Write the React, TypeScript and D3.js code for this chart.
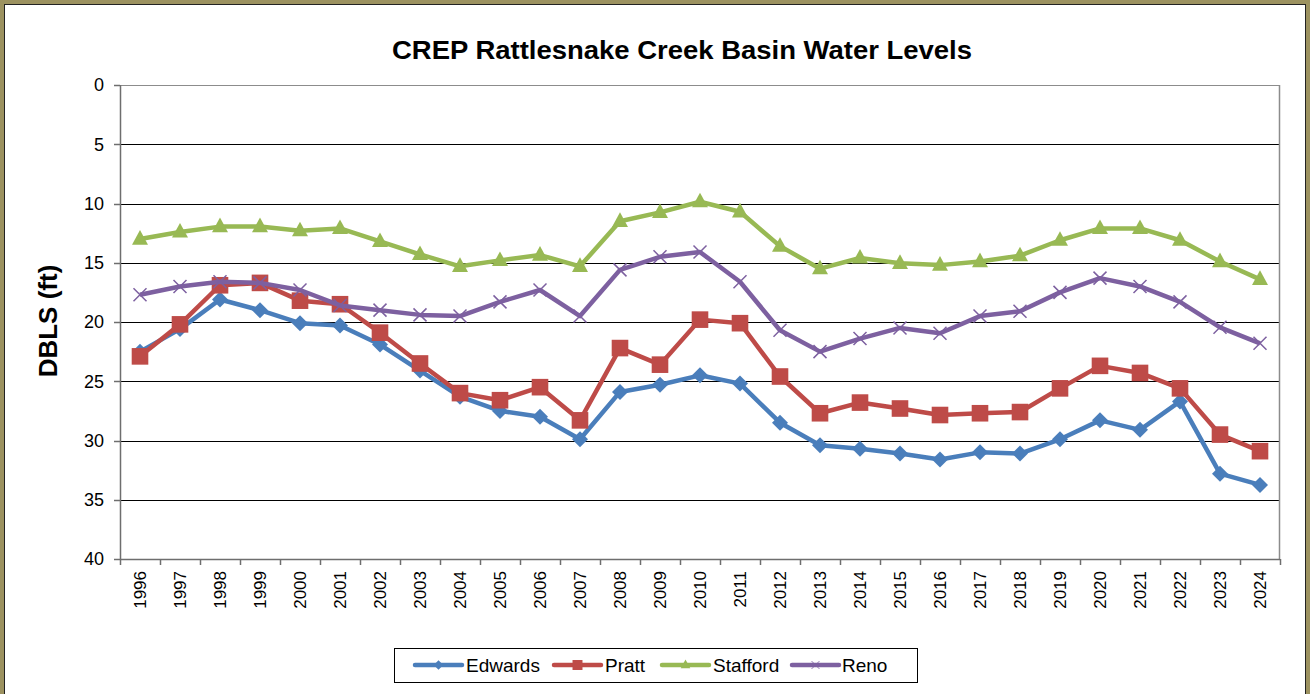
import React from "react";
import * as d3 from "d3";

const years = [1996,1997,1998,1999,2000,2001,2002,2003,2004,2005,2006,2007,2008,2009,2010,2011,2012,2013,2014,2015,2016,2017,2018,2019,2020,2021,2022,2023,2024].map(String);

const edwards = [22.5,20.6,18.1,19.0,20.1,20.3,21.9,24.1,26.3,27.5,28.0,29.9,25.9,25.3,24.5,25.2,28.5,30.4,30.7,31.1,31.6,31.0,31.1,29.9,28.3,29.1,26.7,32.8,33.75];
const pratt = [22.9,20.2,16.9,16.7,18.2,18.5,20.9,23.5,26.0,26.6,25.5,28.3,22.2,23.6,19.8,20.1,24.6,27.7,26.8,27.3,27.85,27.7,27.6,25.6,23.7,24.3,25.6,29.5,30.9];
const stafford = [13.0,12.4,11.95,11.95,12.3,12.1,13.2,14.3,15.3,14.8,14.35,15.3,11.5,10.75,9.85,10.7,13.6,15.5,14.6,15.05,15.2,14.9,14.4,13.1,12.1,12.1,13.1,14.9,16.4];
const reno = [17.7,17.0,16.6,16.7,17.3,18.6,19.0,19.4,19.5,18.3,17.3,19.5,15.6,14.5,14.1,16.6,20.7,22.5,21.4,20.5,20.95,19.5,19.1,17.5,16.3,17.0,18.3,20.45,21.8];

const yTicks = [0,5,10,15,20,25,30,35,40];
const title = "CREP Rattlesnake Creek Basin Water Levels";
const yLabel = "DBLS (ft)";

const series = [
  { name: "Edwards", values: edwards, color: "#4a7ebb", marker: "diamond" },
  { name: "Pratt", values: pratt, color: "#be4b48", marker: "square" },
  { name: "Stafford", values: stafford, color: "#98b954", marker: "triangle" },
  { name: "Reno", values: reno, color: "#7d60a0", marker: "x" },
];

const FONT = "'Liberation Sans', Arial, sans-serif";

function Marker({ type, x, y, color }: { type: string; x: number; y: number; color: string }) {
  if (type === "diamond") {
    const s = 8;
    return <path d={`M${x},${y - s}L${x + s},${y}L${x},${y + s}L${x - s},${y}Z`} fill={color} />;
  }
  if (type === "square") {
    const s = 8.3;
    return <rect x={x - s} y={y - s} width={2 * s} height={2 * s} fill={color} />;
  }
  if (type === "triangle") {
    const s = 8;
    return <path d={`M${x},${y - s - 1}L${x + s},${y + s * 0.7}L${x - s},${y + s * 0.7}Z`} fill={color} />;
  }
  const s = 6.5;
  return (
    <path d={`M${x - s},${y - s}L${x + s},${y + s}M${x - s},${y + s}L${x + s},${y - s}`} stroke={color} strokeWidth={1.5} fill="none" />
  );
}

export default function App() {
  const W = 1310, H = 694;
  const left = 120, right = 1280, top = 85, bottom = 559;
  const x = d3.scaleBand<string>().domain(years).range([left, right]).padding(0);
  const y = d3.scaleLinear().domain([0, 40]).range([top, bottom]);
  const cx = (yr: string) => (x(yr) as number) + x.bandwidth() / 2;
  const line = d3.line<number>().x((_, i) => cx(years[i])).y((v) => y(v));
  const boundaries = years.map((yr) => x(yr) as number).concat([right]);

  const legendItems = [
    { lx: 415, tx: 466 },
    { lx: 554, tx: 605 },
    { lx: 662, tx: 713 },
    { lx: 792, tx: 842 },
  ];

  return (
    <svg width={W} height={H} style={{ position: "absolute", left: 0, top: 0, display: "block" }} fontFamily={FONT}>
      <rect x={0} y={0} width={W} height={H} fill="#fff" />
      <rect x={2} y={2} width={W - 4} height={H + 10} fill="none" stroke="#9c9260" strokeWidth={4} />
      <rect x={4.5} y={4.5} width={W - 9} height={H + 10} fill="none" stroke="#222" strokeWidth={1} />

      <text x={682} y={59} textAnchor="middle" fontSize={26} fontWeight="bold" fill="#000" textLength={580} lengthAdjust="spacingAndGlyphs">{title}</text>

      {/* gridlines */}
      {yTicks.filter((t) => t !== 0 && t !== 40).map((t) => (
        <line key={t} x1={left} x2={right} y1={Math.round(y(t)) + 0.5} y2={Math.round(y(t)) + 0.5} stroke="#000" strokeWidth={1} />
      ))}
      {/* plot border */}
      <line x1={left} x2={right} y1={top + 0.5} y2={top + 0.5} stroke="#8c8c8c" />
      <line x1={right - 0.5} x2={right - 0.5} y1={top} y2={bottom} stroke="#8c8c8c" strokeWidth={1.5} />
      <line x1={left} x2={right} y1={bottom + 0.5} y2={bottom + 0.5} stroke="#6e6e6e" strokeWidth={1.5} />
      <line x1={left + 0.5} x2={left + 0.5} y1={top} y2={bottom} stroke="#6e6e6e" strokeWidth={1.5} />

      {/* y ticks */}
      {yTicks.map((t) => (
        <g key={t}>
          <line x1={left - 6} x2={left} y1={Math.round(y(t)) + 0.5} y2={Math.round(y(t)) + 0.5} stroke="#6e6e6e" strokeWidth={1.5} />
          <text x={104} y={y(t)} dy="0.35em" textAnchor="end" fontSize={18} fill="#000">{t}</text>
        </g>
      ))}
      {/* x ticks */}
      {boundaries.map((b, i) => (
        <line key={i} x1={b + 0.5} x2={b + 0.5} y1={bottom} y2={bottom + 6} stroke="#6e6e6e" strokeWidth={1.5} />
      ))}
      {years.map((yr) => (
        <text key={yr} transform={`translate(${cx(yr) + 6},${571}) rotate(-90)`} textAnchor="end" fontSize={17} fill="#000">{yr}</text>
      ))}

      <text transform={`translate(57,${321}) rotate(-90)`} textAnchor="middle" fontSize={26} fontWeight="bold" fill="#000">{yLabel}</text>

      {/* series */}
      {series.map((s) => (
        <g key={s.name}>
          <path d={line(s.values) as string} fill="none" stroke={s.color} strokeWidth={4.5} strokeLinejoin="round" />
          {s.values.map((v, i) => (
            <Marker key={i} type={s.marker} x={cx(years[i])} y={y(v)} color={s.color} />
          ))}
        </g>
      ))}

      {/* legend */}
      <rect x={394.5} y={648.5} width={523} height={34} fill="#fff" stroke="#000" strokeWidth={1} />
      {series.map((s, i) => {
        const it = legendItems[i];
        return (
          <g key={s.name}>
            <line x1={it.lx} x2={it.lx + 47} y1={665} y2={665} stroke={s.color} strokeWidth={4.5} strokeLinecap="round" />
            <g transform={`translate(${it.lx + 23.5},665) scale(0.6)`}>
              <Marker type={s.marker} x={0} y={0} color={s.color} />
            </g>
            <text x={it.tx} y={665} dy="0.35em" fontSize={19} fill="#000">{s.name}</text>
          </g>
        );
      })}
    </svg>
  );
}
